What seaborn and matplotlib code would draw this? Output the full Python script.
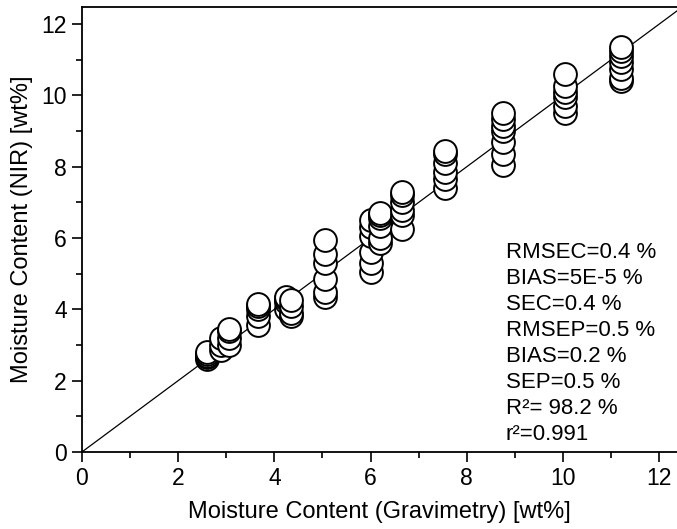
import matplotlib
matplotlib.use('Agg')
import matplotlib.pyplot as plt
import numpy as np
import pandas as pd
import seaborn as sns
from matplotlib.ticker import MultipleLocator

sns.set_style('ticks')
plt.rcParams['font.family'] = ['Liberation Sans', 'DejaVu Sans']
plt.rcParams['text.color'] = 'black'
plt.rcParams['axes.labelcolor'] = 'black'

# Gravimetric reference values (x) and NIR predictions (y), read per cluster
grav = [2.6] * 5 + [2.9] * 3 + [3.05] * 4 + [3.65] * 5 + [4.25] * 4 + [4.35] * 4 \
    + [5.05] * 6 + [6.0] * 6 + [6.2] * 6 + [6.65] * 6 + [7.55] * 6 \
    + [8.75] * 7 + [10.05] * 6 + [11.2] * 7
nir = [2.6, 2.65, 2.7, 2.75, 2.8,
       2.85, 3.0, 3.2,
       3.0, 3.2, 3.4, 3.45,
       3.55, 3.8, 4.0, 4.1, 4.15,
       4.0, 4.2, 4.3, 4.35,
       3.8, 3.9, 4.1, 4.25,
       4.35, 4.5, 4.85, 5.3, 5.55, 5.95,
       5.05, 5.3, 5.6, 6.05, 6.3, 6.5,
       5.85, 6.0, 6.35, 6.55, 6.65, 6.7,
       6.25, 6.65, 6.8, 7.0, 7.2, 7.3,
       7.4, 7.65, 7.85, 8.1, 8.35, 8.45,
       8.05, 8.35, 8.7, 9.0, 9.15, 9.35, 9.5,
       9.5, 9.7, 9.95, 10.1, 10.25, 10.6,
       10.4, 10.5, 10.75, 10.95, 11.1, 11.25, 11.35]

stats = ['RMSEC=0.4 %', 'BIAS=5E-5 %', 'SEC=0.4 %', 'RMSEP=0.5 %',
         'BIAS=0.2 %', 'SEP=0.5 %', 'R\u00b2= 98.2 %', 'r\u00b2=0.991']

df = pd.DataFrame({'grav': grav, 'nir': nir})

fig = plt.figure(figsize=(6.77, 5.29), dpi=100)
ax = fig.add_axes([0.121, 0.1456, 0.879, 0.8412])

ax.plot([0, 13], [0, 13], color='black', lw=0.9, zorder=1)
sns.scatterplot(data=df, x='grav', y='nir', ax=ax, s=270, marker='o',
                facecolor='white', edgecolor='black', linewidth=1.4, zorder=3)

ax.set_xlim(0, 12.37)
ax.set_ylim(0, 12.48)
ax.xaxis.set_major_locator(MultipleLocator(2))
ax.xaxis.set_minor_locator(MultipleLocator(1))
ax.yaxis.set_major_locator(MultipleLocator(2))
ax.yaxis.set_minor_locator(MultipleLocator(1))
ax.tick_params(which='major', length=7, width=1.2, direction='out', labelsize=16.5,
               colors='black', pad=4)
ax.tick_params(which='minor', length=4, width=1.2, direction='out', colors='black')
ax.spines['right'].set_visible(False)
for s in ['left', 'bottom', 'top']:
    ax.spines[s].set_linewidth(1.3)
    ax.spines[s].set_color('black')

ax.set_xlabel('Moisture Content (Gravimetry) [wt%]', fontsize=17, labelpad=8)
ax.set_ylabel('Moisture Content (NIR) [wt%]', fontsize=17, labelpad=6)

ax.text(0.7126, 0.2438, '\n'.join(stats), transform=ax.transAxes, fontsize=16,
        va='center', ha='left', linespacing=1.31, color='black')

fig.savefig('out.png', dpi=100, facecolor='white')
